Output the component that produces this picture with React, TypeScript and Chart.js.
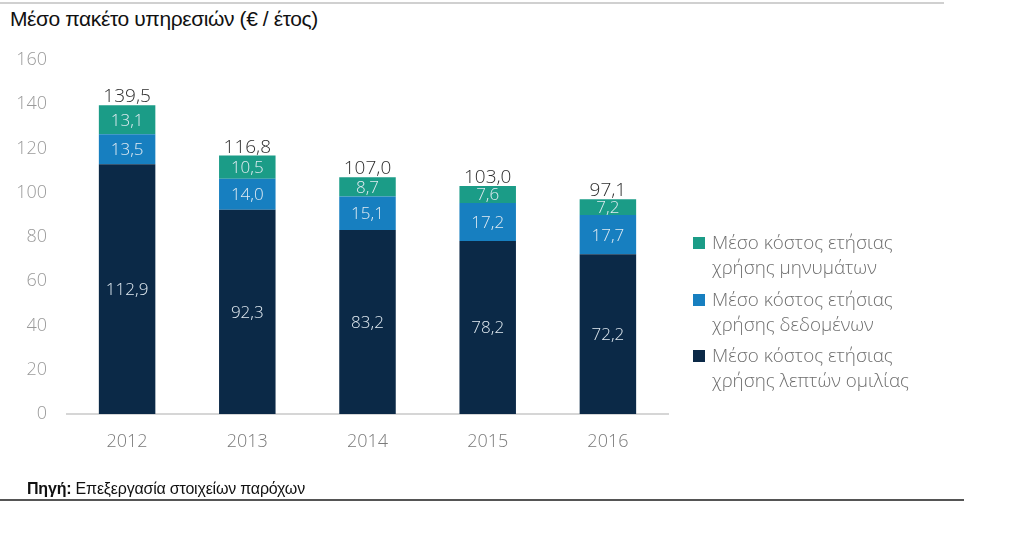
import React, { useEffect, useRef } from "react";
import { Chart, registerables } from "chart.js";

Chart.register(...registerables);

const years = ["2012", "2013", "2014", "2015", "2016"];
const voiceCost = [112.9, 92.3, 83.2, 78.2, 72.2];
const dataCost = [13.5, 14.0, 15.1, 17.2, 17.7];
const smsCost = [13.1, 10.5, 8.7, 7.6, 7.2];
const totals = [139.5, 116.8, 107.0, 103.0, 97.1];
const yTicks = [0, 20, 40, 60, 80, 100, 120, 140, 160];

const seriesNames = [
  ["Μέσο κόστος ετήσιας", "χρήσης μηνυμάτων"],
  ["Μέσο κόστος ετήσιας", "χρήσης δεδομένων"],
  ["Μέσο κόστος ετήσιας", "χρήσης λεπτών ομιλίας"],
];
const colors = ["#1b9c87", "#177fc0", "#0b2947"];

const fmt = (v: number) => v.toFixed(1).replace(".", ",");
const FONT = "'Open Sans', sans-serif";

const labelPlugin = {
  id: "barLabels",
  afterDatasetsDraw(chart: any) {
    const ctx = chart.ctx;
    ctx.save();
    ctx.textAlign = "center";
    ctx.textBaseline = "middle";
    chart.data.datasets.forEach((ds: any, di: number) => {
      const meta = chart.getDatasetMeta(di);
      meta.data.forEach((bar: any, i: number) => {
        const v = ds.data[i];
        const yMid = (bar.y + bar.base) / 2;
        ctx.font = `300 17px ${FONT}`;
        ctx.fillStyle = "#e2ebf2";
        ctx.fillText(fmt(v), bar.x, yMid + 1);
      });
    });
    const yScale = chart.scales.y;
    const metaTop = chart.getDatasetMeta(2);
    ctx.font = `300 19px ${FONT}`;
    ctx.fillStyle = "#2e2e2e";
    ctx.textBaseline = "alphabetic";
    metaTop.data.forEach((bar: any, i: number) => {
      const y = yScale.getPixelForValue(totals[i]);
      ctx.fillText(fmt(totals[i]), bar.x, y - 3);
    });
    ctx.restore();
  },
};

export default function App() {
  const ref = useRef<HTMLCanvasElement>(null);
  useEffect(() => {
    if (!ref.current) return;
    const chart = new Chart(ref.current, {
      type: "bar",
      data: {
        labels: years,
        datasets: [
          { label: seriesNames[2].join(" "), data: voiceCost, backgroundColor: colors[2], barPercentage: 0.94, categoryPercentage: 0.5 },
          { label: seriesNames[1].join(" "), data: dataCost, backgroundColor: colors[1], barPercentage: 0.94, categoryPercentage: 0.5 },
          { label: seriesNames[0].join(" "), data: smsCost, backgroundColor: colors[0], barPercentage: 0.94, categoryPercentage: 0.5 },
        ],
      },
      options: {
        animation: false,
        responsive: false,
        layout: { padding: { top: 60, right: 356, bottom: 0, left: 0 } },
        plugins: { legend: { display: false }, tooltip: { enabled: false } },
        scales: {
          x: {
            stacked: true,
            grid: { display: false, drawTicks: false },
            border: { display: true, color: "#d6d6d6", width: 2 },
            ticks: { color: "#7a7a7a", font: { family: FONT, size: 18, weight: "300" }, padding: 17 },
            afterFit: (s: any) => { s.height = 141; },
          },
          y: {
            stacked: true,
            min: 0,
            max: 160,
            afterBuildTicks: (s: any) => { s.ticks = yTicks.map((v) => ({ value: v })); },
            grid: { display: false, drawTicks: false },
            border: { display: false },
            ticks: { color: "#9a9a9a", font: { family: FONT, size: 18, weight: "300" }, padding: 20 },
            afterFit: (s: any) => { s.width = 67; },
          },
        },
      },
      plugins: [labelPlugin],
    });
    return () => chart.destroy();
  }, []);

  return (
    <div style={{ position: "absolute", left: 0, top: 0, width: 1024, height: 555, background: "#fff", overflow: "hidden" }}>
      <div style={{ position: "absolute", left: 0, top: 2, width: 944, height: 2, background: "#d0d0d0" }} />
      <div
        style={{
          position: "absolute", left: 10, top: 7, fontFamily: "'Liberation Sans', Arial, sans-serif",
          fontSize: 21, letterSpacing: -0.4, color: "#111", whiteSpace: "nowrap",
        }}
      >
        Μέσο πακέτο υπηρεσιών (€ / έτος)
      </div>
      <canvas ref={ref} width={1024} height={555} style={{ position: "absolute", left: 0, top: 0 }} />
      <div style={{ position: "absolute", left: 693, top: 230, fontFamily: FONT, fontWeight: 300, fontSize: 18.8, color: "#6e6e6e", lineHeight: "25px" }}>
        {seriesNames.map((lines, i) => (
          <div key={i} style={{ position: "relative", paddingLeft: 19, marginBottom: 6.5 }}>
            <div style={{ position: "absolute", left: 0, top: 7, width: 12, height: 12, background: colors[i] }} />
            {lines.map((l, j) => (
              <div key={j} style={{ whiteSpace: "nowrap" }}>{l}</div>
            ))}
          </div>
        ))}
      </div>
      <div
        style={{
          position: "absolute", left: 27, top: 480, fontFamily: "'Liberation Sans', Arial, sans-serif",
          fontSize: 16, letterSpacing: -0.2, color: "#111", whiteSpace: "nowrap",
        }}
      >
        <b>Πηγή:</b> Επεξεργασία στοιχείων παρόχων
      </div>
      <div style={{ position: "absolute", left: 0, top: 499, width: 964, height: 2, background: "#555" }} />
    </div>
  );
}
